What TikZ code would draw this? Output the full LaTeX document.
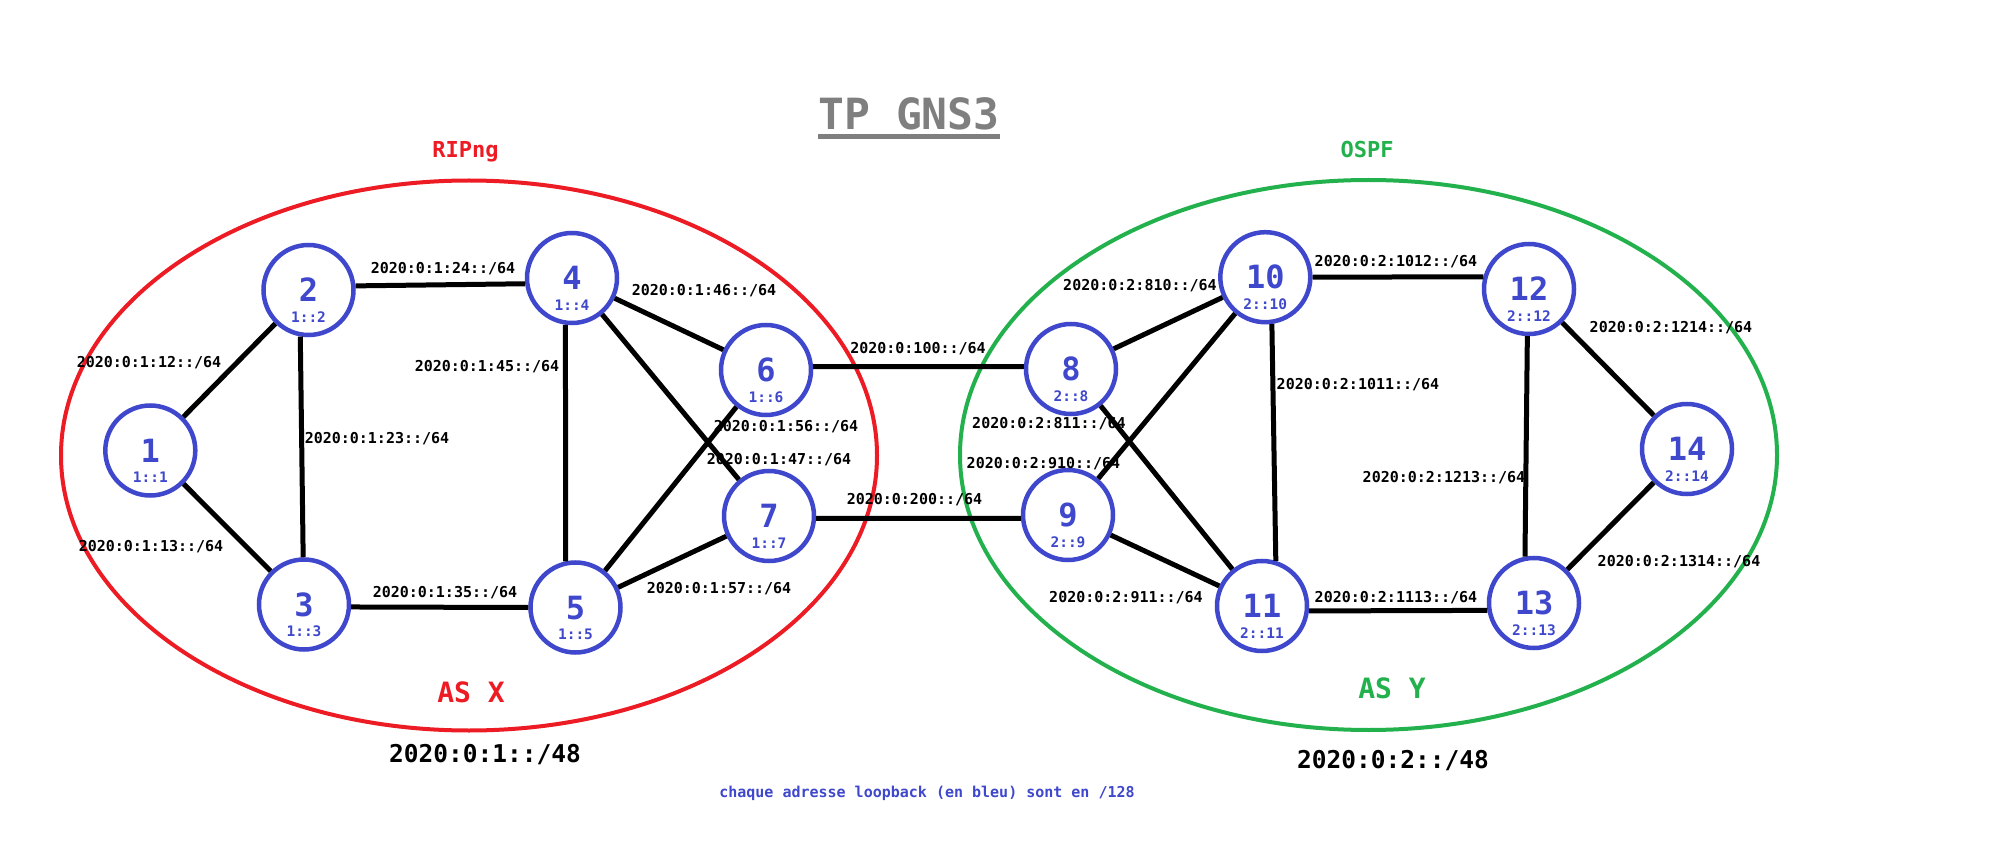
\documentclass[tikz,border=0pt]{standalone}
\usepackage{fontspec}
\newfontfamily\mono{DejaVu Sans Mono}
\definecolor{nodeblue}{RGB}{63,72,204}
\definecolor{asred}{RGB}{237,28,36}
\definecolor{asgreen}{RGB}{34,177,76}
\definecolor{titlegray}{RGB}{127,127,127}
\tikzset{
  routerbox/.style={circle, draw=nodeblue, line width=4.5pt, minimum size=90pt, inner sep=0pt},
  numlab/.style={inner sep=0pt, text=nodeblue, font=\mono\bfseries\fontsize{32}{32}\selectfont, text height=23.3pt, text depth=0pt},
  subloop/.style={inner sep=0pt, text=nodeblue, font=\mono\bfseries\fontsize{14.5}{14.5}\selectfont, text height=10.6pt, text depth=0pt},
  linkline/.style={draw=black, line width=5pt},
  elab/.style={inner sep=0pt, font=\mono\bfseries\fontsize{15}{15}\selectfont, text height=11pt, text depth=0pt},
  aslab/.style={inner sep=0pt, font=\mono\bfseries\fontsize{28}{28}\selectfont, text height=20.4pt, text depth=0pt},
  protolab/.style={inner sep=0pt, font=\mono\bfseries\fontsize{22}{22}\selectfont},
  prefixlab/.style={inner sep=0pt, font=\mono\bfseries\fontsize{24.5}{24.5}\selectfont, text height=17.9pt, text depth=0pt},
}
\newcommand\router[4]{%
  \node[routerbox] (#1) at (#2) {};
  \node[numlab] (#1num) at (#1.center) {#3};
  \node[subloop] (#1sub) at ([yshift=-27pt]#1.center) {#4};
}
\begin{document}
\begin{tikzpicture}[x=1pt,y=-1pt]
\path[fill=white] (0,0) rectangle (1990,850);
\useasboundingbox (0,0) rectangle (1990,850);

% title
\node[inner sep=0pt, text=titlegray, font=\mono\bfseries\fontsize{43}{43}\selectfont, anchor=base] (title) at (909,130) {TP GNS3};
\draw[titlegray, line width=5pt] ([yshift=-6.5pt]title.base west) -- ([yshift=-6.5pt]title.base east);

% AS areas
\draw[asred, line width=4pt] (469,455.5) ellipse [x radius=408, y radius=275];
\draw[asgreen, line width=4pt] (1368.5,455) ellipse [x radius=408.5, y radius=275];
\node[protolab, text=asred, anchor=base] (ripng) at (465.5,157.3) {RIPng};
\node[protolab, text=asgreen, anchor=base] (ospf) at (1367,157.3) {OSPF};
\node[aslab, text=asred] (asx) at (471,692) {AS X};
\node[aslab, text=asgreen] (asy) at (1392,688) {AS Y};
\node[prefixlab] (px) at (485,754) {2020:0:1::/48};
\node[prefixlab] (py) at (1393,760) {2020:0:2::/48};
\node[inner sep=0pt, text=nodeblue, font=\mono\bfseries\fontsize{15}{15}\selectfont, anchor=base] (note) at (927,797) {chaque adresse loopback (en bleu) sont en /128};

% routers
\router{n1}{150.3,450.5}{1}{1::1}
\router{n2}{308.5,290}{2}{1::2}
\router{n3}{304,604.5}{3}{1::3}
\router{n4}{572,278}{4}{1::4}
\router{n5}{575.5,607.5}{5}{1::5}
\router{n6}{766,370}{6}{1::6}
\router{n7}{769,516}{7}{1::7}
\router{n8}{1071,369}{8}{2::8}
\router{n9}{1068,515}{9}{2::9}
\router{n10}{1265.3,277.2}{10}{2::10}
\router{n11}{1262,606}{11}{2::11}
\router{n12}{1529,289}{12}{2::12}
\router{n13}{1534,603}{13}{2::13}
\router{n14}{1687,449}{14}{2::14}

% links
\draw[linkline] (n1) -- (n2);
\draw[linkline] (n1) -- (n3);
\draw[linkline] (n2.260) -- (n3.91);
\draw[linkline] (n2.5) -- (n4.187);
\draw[linkline] (n3.357) -- (n5.west);
\draw[linkline] (n4.262) -- (n5.102);
\draw[linkline] (n4) -- (n6);
\draw[linkline] (n4) -- (n7);
\draw[linkline] (n5) -- (n6);
\draw[linkline] (n5) -- (n7);
\draw[linkline] (n6.4) -- (n8.177);
\draw[linkline] (n7.357) -- (n9.184);
\draw[linkline] (n8) -- (n10);
\draw[linkline] (n8) -- (n11);
\draw[linkline] (n9) -- (n10);
\draw[linkline] (n9) -- (n11);
\draw[linkline] (n10.278) -- (n11.73);
\draw[linkline] (n10.east) -- (n12.165);
\draw[linkline] (n11.354) -- (n13.189);
\draw[linkline] (n12.268) -- (n13.101);
\draw[linkline] (n12) -- (n14);
\draw[linkline] (n13) -- (n14);

% link labels
\node[elab] (l24) at (443,268) {2020:0:1:24::/64};
\node[elab] (l46) at (704,290.5) {2020:0:1:46::/64};
\node[elab] (l12) at (149,362) {2020:0:1:12::/64};
\node[elab] (l45) at (487,366.5) {2020:0:1:45::/64};
\node[elab] (l68) at (918,348) {2020:0:100::/64};
\node[elab] (l23) at (377,438) {2020:0:1:23::/64};
\node[elab] (l56) at (786,425.5) {2020:0:1:56::/64};
\node[elab] (l47) at (779,458.5) {2020:0:1:47::/64};
\node[elab] (l79) at (914.5,499) {2020:0:200::/64};
\node[elab] (l13) at (151,546) {2020:0:1:13::/64};
\node[elab] (l35) at (445,592) {2020:0:1:35::/64};
\node[elab] (l57) at (719,588) {2020:0:1:57::/64};
\node[elab] (l810) at (1140,285) {2020:0:2:810::/64};
\node[elab] (l1012) at (1396,261) {2020:0:2:1012::/64};
\node[elab] (l1214) at (1671,327) {2020:0:2:1214::/64};
\node[elab] (l1011) at (1358,384) {2020:0:2:1011::/64};
\node[elab] (l811) at (1049,423) {2020:0:2:811::/64};
\node[elab] (l910) at (1043.5,463) {2020:0:2:910::/64};
\node[elab] (l1213) at (1444,476.5) {2020:0:2:1213::/64};
\node[elab] (l911) at (1126,596.5) {2020:0:2:911::/64};
\node[elab] (l1113) at (1396,597) {2020:0:2:1113::/64};
\node[elab] (l1314) at (1679,561) {2020:0:2:1314::/64};
\end{tikzpicture}
\end{document}
